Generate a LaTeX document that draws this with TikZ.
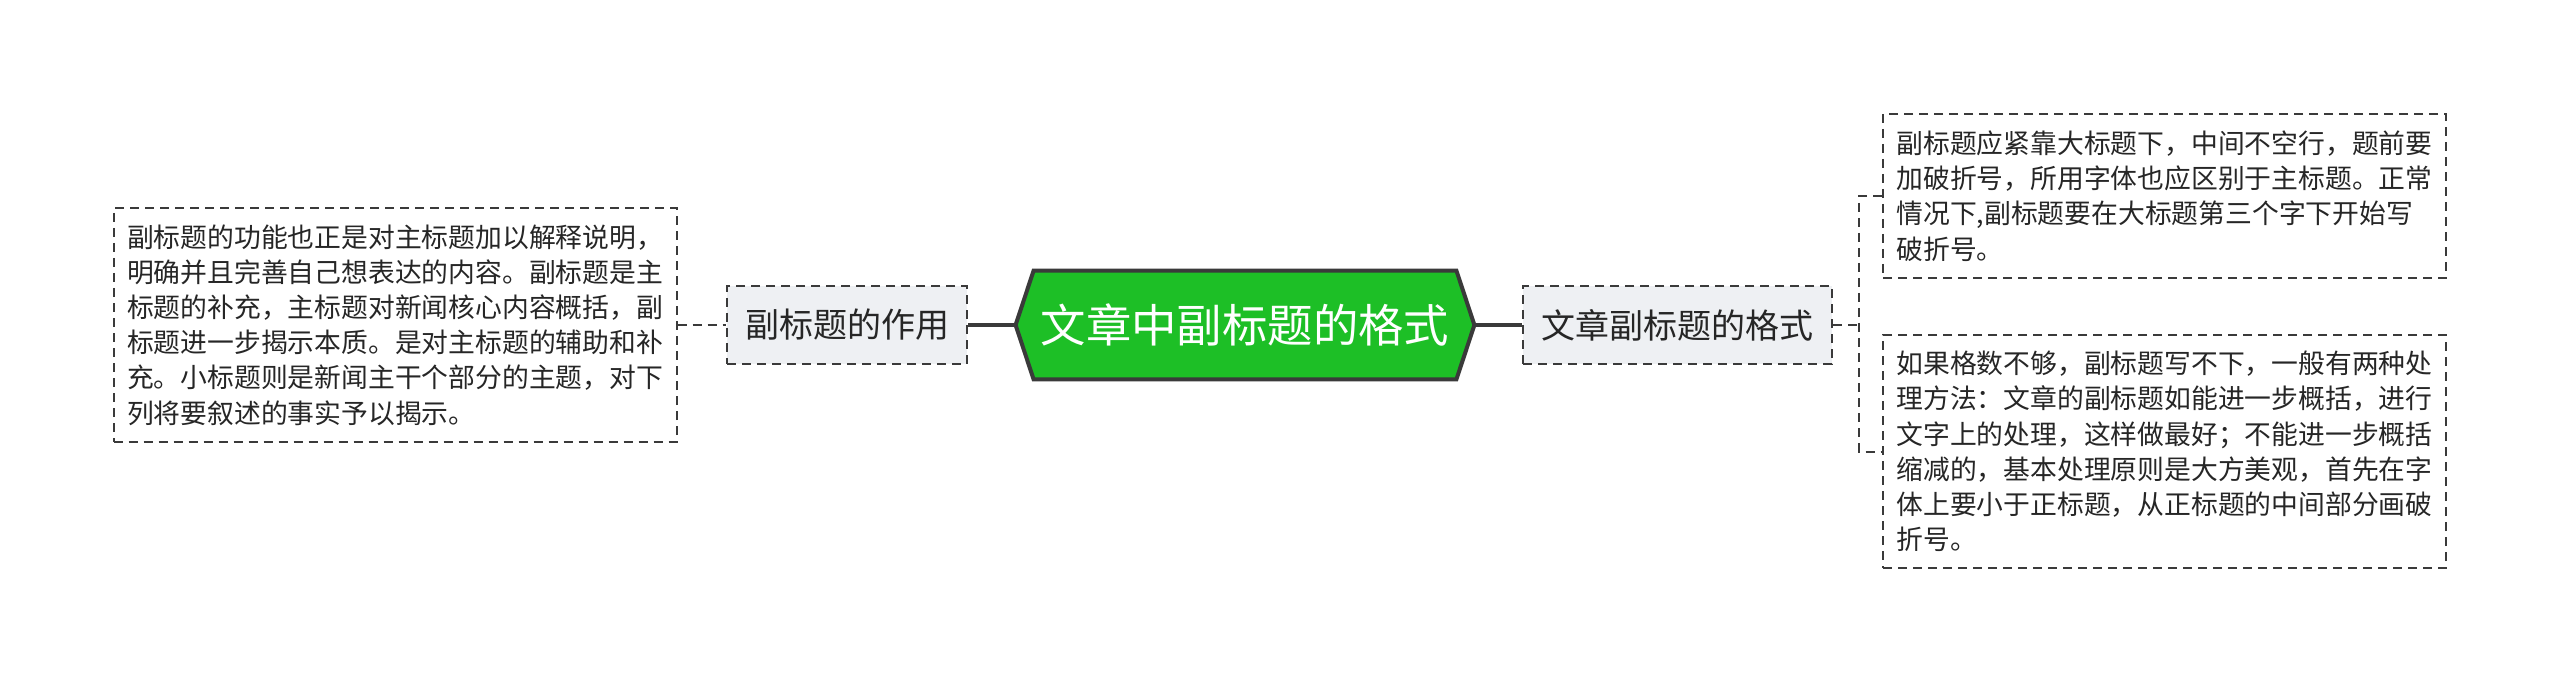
\documentclass[tikz,border=0pt]{standalone}
\usepackage{fontspec}
\setmainfont{Noto Sans CJK SC}
\usetikzlibrary{backgrounds}
\definecolor{rootgreen}{HTML}{1DBF26}
\definecolor{linegray}{HTML}{3A3A3A}
\definecolor{boxgray}{HTML}{EEF0F3}
\definecolor{inkgray}{HTML}{262626}

\begin{document}
\begin{tikzpicture}[
        x=0.5pt, y=-0.5pt,
        topicbox/.style={draw=linegray, dash pattern=on 4.5pt off 3pt, line width=1.1pt, fill=boxgray, minimum height=39pt, inner sep=0pt, text=inkgray, font=\fontsize{17}{20}\selectfont},
        notebox/.style={draw=linegray, dash pattern=on 4.5pt off 3pt, line width=1pt, fill=white, align=left, text width=268pt, minimum width=281.5pt, inner sep=0pt, text=inkgray, font=\fontsize{13.4}{17.6}\selectfont},
        rootnode/.style={minimum width=229pt, minimum height=54pt, inner sep=0pt, text=white, font=\fontsize{22.7}{26}\selectfont},
        solidlink/.style={draw=linegray, line width=1.6pt},
        dashlink/.style={draw=linegray, line width=1pt, dash pattern=on 4.5pt off 3pt}
    ]
    \useasboundingbox (0,0) rectangle (2560,684);

    % --- Root: hexagon in the middle ---
    \node[rootnode] (root) at (1245, 325) {文章中副标题的格式};
    \begin{scope}[on background layer]
        \draw[line width=2pt, draw=linegray, fill=rootgreen] (root.west) -- ([xshift=9pt]root.north west) -- ([xshift=-9pt]root.north east) -- (root.east) -- ([xshift=-9pt]root.south east) -- ([xshift=9pt]root.south west) -- cycle;
    \end{scope}

    % --- Left branch ---
    \node[topicbox, minimum width=120pt] (role) at (847, 325) {副标题的作用};
    \node[notebox, minimum height=117pt] (roletext) at (395, 325) {副标题的功能也正是对主标题加以解释说明，\\明确并且完善自己想表达的内容。副标题是主\\标题的补充，主标题对新闻核心内容概括，副\\标题进一步揭示本质。是对主标题的辅助和补\\充。小标题则是新闻主干个部分的主题，对下\\列将要叙述的事实予以揭示。};

    % --- Right branch ---
    \node[topicbox, minimum width=154.5pt] (fmt) at (1677.5, 325) {文章副标题的格式};
    \node[notebox, minimum height=82pt] (fmttop) at (2164.5, 196) {副标题应紧靠大标题下，中间不空行，题前要\\加破折号，所用字体也应区别于主标题。正常\\情况下,副标题要在大标题第三个字下开始写\\破折号。};
    \node[notebox, minimum height=116.5pt] (fmtbot) at (2164.5, 451.5) {如果格数不够，副标题写不下，一般有两种处\\理方法：文章的副标题如能进一步概括，进行\\文字上的处理，这样做最好；不能进一步概括\\缩减的，基本处理原则是大方美观，首先在字\\体上要小于正标题，从正标题的中间部分画破\\折号。};
    \coordinate (fork) at (1859, 325);

    % --- Connectors ---
    \draw[solidlink] (role) -- (root);
    \draw[solidlink] (root) -- (fmt);
    \draw[dashlink] (roletext) -- (role);
    \draw[dashlink] (fmt) -- (fork);
    \draw[dashlink] (fmttop.west) -| (fork) |- (fmtbot.west);
\end{tikzpicture}
\end{document}
